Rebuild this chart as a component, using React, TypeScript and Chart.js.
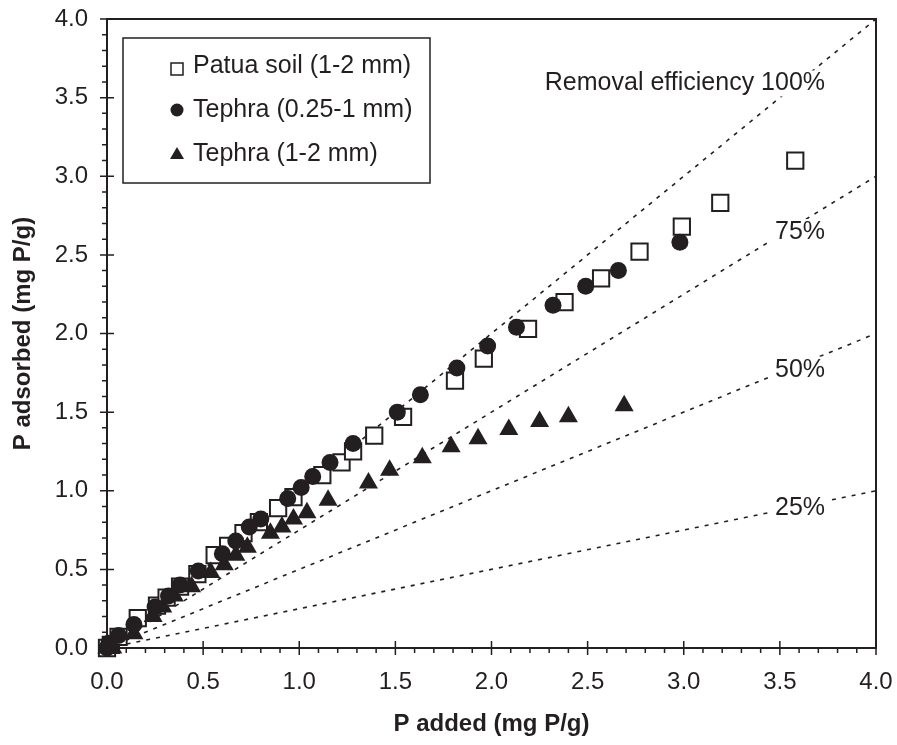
import React, { useEffect, useRef } from 'react';
import { Chart, registerables } from 'chart.js';

Chart.register(...registerables);

// ---- Data ----
const patuaX = [0, 0.02, 0.06, 0.16, 0.26, 0.31, 0.38, 0.47, 0.56, 0.63, 0.71, 0.79, 0.89, 0.97, 1.12, 1.22, 1.28, 1.39, 1.54, 1.81, 1.96, 2.19, 2.38, 2.57, 2.77, 2.99, 3.19, 3.58];
const patuaY = [0, 0.02, 0.07, 0.19, 0.27, 0.32, 0.39, 0.47, 0.59, 0.65, 0.73, 0.8, 0.89, 0.96, 1.1, 1.18, 1.25, 1.35, 1.47, 1.7, 1.84, 2.03, 2.2, 2.35, 2.52, 2.68, 2.83, 3.1];

const tephraFineX = [0, 0.01, 0.06, 0.14, 0.25, 0.32, 0.38, 0.475, 0.6, 0.67, 0.74, 0.8, 0.94, 1.01, 1.07, 1.16, 1.28, 1.51, 1.63, 1.82, 1.98, 2.13, 2.32, 2.49, 2.66, 2.98];
const tephraFineY = [0, 0.03, 0.08, 0.15, 0.26, 0.33, 0.4, 0.49, 0.6, 0.68, 0.77, 0.82, 0.95, 1.02, 1.09, 1.18, 1.3, 1.5, 1.61, 1.78, 1.92, 2.04, 2.18, 2.3, 2.4, 2.58];

const tephraCoarseX = [0, 0.03, 0.14, 0.24, 0.29, 0.35, 0.44, 0.54, 0.61, 0.67, 0.73, 0.85, 0.91, 0.97, 1.04, 1.15, 1.36, 1.47, 1.64, 1.79, 1.93, 2.09, 2.25, 2.4, 2.69];
const tephraCoarseY = [0, 0.0, 0.09, 0.2, 0.26, 0.33, 0.39, 0.48, 0.53, 0.59, 0.64, 0.73, 0.77, 0.82, 0.86, 0.94, 1.05, 1.13, 1.21, 1.28, 1.33, 1.39, 1.44, 1.47, 1.54];

const seriesLabels = ['Patua soil (1-2 mm)', 'Tephra (0.25-1 mm)', 'Tephra (1-2 mm)'];

// removal efficiency reference lines (endpoints)
const refX = [0, 4];
const ref100Y = [0, 4];
const ref75Y = [0, 3];
const ref50Y = [0, 2];
const ref25Y = [0, 1];
const refLabels = ['Removal efficiency 100%', '75%', '50%', '25%'];
const refLabelX = [3.735, 3.735, 3.735, 3.735];
const refLabelY = [3.59, 2.645, 1.77, 0.89];

const axisMin = 0;
const axisMax = 4;
const majorStep = 0.5;
const minorCount = 40; // minor ticks every 0.1

const xTitle = 'P added (mg P/g)';
const yTitle = 'P adsorbed (mg P/g)';

const INK = '#231f20';
const FONT = "'Liberation Sans', Arial, sans-serif";

const toPts = (xs: number[], ys: number[]) => xs.map((x, i) => ({ x, y: ys[i] }));

function drawMarker(ctx: CanvasRenderingContext2D, style: string, x: number, y: number, size: number) {
  ctx.save();
  ctx.beginPath();
  if (style === 'rect') {
    ctx.rect(x - size / 2, y - size / 2, size, size);
    ctx.fillStyle = '#fff';
    ctx.fill();
    ctx.lineWidth = 1.5;
    ctx.strokeStyle = INK;
    ctx.stroke();
  } else if (style === 'circle') {
    ctx.arc(x, y, size / 2, 0, Math.PI * 2);
    ctx.fillStyle = INK;
    ctx.fill();
  } else {
    const r = size / Math.sqrt(3);
    ctx.moveTo(x, y - r);
    ctx.lineTo(x + size / 2, y + r / 2);
    ctx.lineTo(x - size / 2, y + r / 2);
    ctx.closePath();
    ctx.fillStyle = INK;
    ctx.fill();
  }
  ctx.restore();
}

const decorPlugin = {
  id: 'decor',
  beforeDatasetsDraw(chart: any) {
    const { ctx, chartArea, scales } = chart;
    const xs = scales.x;
    const ys = scales.y;
    ctx.save();
    // top and right frame
    ctx.strokeStyle = INK;
    ctx.lineWidth = 2;
    ctx.beginPath();
    ctx.moveTo(chartArea.left, chartArea.top);
    ctx.lineTo(chartArea.right, chartArea.top);
    ctx.lineTo(chartArea.right, chartArea.bottom);
    ctx.stroke();
    // ticks
    ctx.lineWidth = 1.5;
    for (let i = 0; i <= minorCount; i++) {
      const v = axisMin + ((axisMax - axisMin) * i) / minorCount;
      const major = i % 5 === 0;
      const px = xs.getPixelForValue(v);
      const py = ys.getPixelForValue(v);
      ctx.beginPath();
      if (major) {
        ctx.moveTo(px, chartArea.bottom - 7);
        ctx.lineTo(px, chartArea.bottom + 7);
        ctx.moveTo(chartArea.left - 7, py);
        ctx.lineTo(chartArea.left + 7, py);
      } else {
        ctx.moveTo(px, chartArea.bottom);
        ctx.lineTo(px, chartArea.bottom + 5);
        ctx.moveTo(chartArea.left - 5, py);
        ctx.lineTo(chartArea.left, py);
      }
      ctx.stroke();
    }
    ctx.restore();
  },
  afterDatasetsDraw(chart: any) {
    const { ctx, scales } = chart;
    const xs = scales.x;
    const ys = scales.y;
    ctx.save();
    ctx.font = `25px ${FONT}`;
    ctx.textAlign = 'right';
    ctx.textBaseline = 'middle';
    refLabels.forEach((t, i) => {
      const px = xs.getPixelForValue(refLabelX[i]);
      const py = ys.getPixelForValue(refLabelY[i]);
      const w = ctx.measureText(t).width;
      ctx.fillStyle = '#fff';
      ctx.fillRect(px - w - 4, py - 13, w + 8, 26);
      ctx.fillStyle = INK;
      ctx.fillText(t, px, py);
    });
    ctx.restore();
  },
  afterDraw(chart: any) {
    const { ctx } = chart;
    ctx.save();
    // legend box
    const bx = 123, by = 38, bw = 307, bh = 145;
    ctx.fillStyle = '#fff';
    ctx.fillRect(bx, by, bw, bh);
    ctx.strokeStyle = INK;
    ctx.lineWidth = 1.5;
    ctx.strokeRect(bx, by, bw, bh);
    const styles = ['rect', 'circle', 'triangle'];
    const sizes = [12, 13, 14];
    const rowY = [66, 110, 154];
    const markY = [69, 110, 155];
    ctx.font = `25px ${FONT}`;
    ctx.textAlign = 'left';
    ctx.textBaseline = 'middle';
    seriesLabels.forEach((t, i) => {
      drawMarker(ctx, styles[i], 177, markY[i], sizes[i]);
      ctx.fillStyle = INK;
      ctx.fillText(t, 193, rowY[i]);
    });
    ctx.restore();
  },
};

export default function App() {
  const canvasRef = useRef<HTMLCanvasElement | null>(null);

  useEffect(() => {
    const canvas = canvasRef.current;
    if (!canvas) return;
    const refLine = (ys: number[]) => ({
      type: 'line' as const,
      data: toPts(refX, ys),
      showLine: true,
      borderColor: INK,
      borderWidth: 1.6,
      borderDash: [4, 6],
      pointRadius: 0,
      order: 10,
      fill: false,
    });
    const chart = new Chart(canvas, {
      type: 'scatter',
      data: {
        datasets: [
          refLine(ref100Y),
          refLine(ref75Y),
          refLine(ref50Y),
          refLine(ref25Y),
          {
            label: seriesLabels[0],
            data: toPts(patuaX, patuaY),
            pointStyle: 'rect',
            pointRadius: 11.5,
            pointBackgroundColor: '#ffffff',
            pointBorderColor: INK,
            pointBorderWidth: 2,
            order: 3,
            clip: false,
          },
          {
            label: seriesLabels[2],
            data: toPts(tephraCoarseX, tephraCoarseY),
            pointStyle: 'triangle',
            pointRadius: 11,
            pointBackgroundColor: INK,
            pointBorderColor: INK,
            pointBorderWidth: 0,
            order: 2,
            clip: false,
          },
          {
            label: seriesLabels[1],
            data: toPts(tephraFineX, tephraFineY),
            pointStyle: 'circle',
            pointRadius: 8.5,
            pointBackgroundColor: INK,
            pointBorderColor: INK,
            pointBorderWidth: 0,
            order: 1,
            clip: false,
          },
        ],
      },
      options: {
        responsive: false,
        animation: false,
        devicePixelRatio: 1,
        layout: { padding: { top: 19, right: 21, left: 0, bottom: 0 } },
        plugins: { legend: { display: false }, tooltip: { enabled: false } },
        scales: {
          x: {
            type: 'linear',
            min: axisMin,
            max: axisMax,
            afterFit: (s: any) => {
              s.height = 97;
              s.paddingLeft = 0;
              s.paddingRight = 0;
            },
            ticks: {
              stepSize: majorStep,
              padding: 20,
              color: INK,
              font: { family: FONT, size: 24 },
              callback: (v: any) => Number(v).toFixed(1),
            },
            grid: { display: false, drawTicks: false },
            border: { display: true, color: INK, width: 2 },
            title: {
              display: true,
              text: xTitle,
              color: INK,
              font: { family: FONT, size: 24, weight: 'bold' },
              padding: { top: 0, bottom: 6 },
            },
          },
          y: {
            type: 'linear',
            min: axisMin,
            max: axisMax,
            afterFit: (s: any) => {
              s.width = 107;
              s.paddingTop = 0;
              s.paddingBottom = 0;
            },
            ticks: {
              stepSize: majorStep,
              padding: 19,
              color: INK,
              font: { family: FONT, size: 24 },
              callback: (v: any) => Number(v).toFixed(1),
            },
            grid: { display: false, drawTicks: false },
            border: { display: true, color: INK, width: 2 },
            title: {
              display: true,
              text: yTitle,
              color: INK,
              font: { family: FONT, size: 24, weight: 'bold' },
              padding: { top: 9, bottom: 0 },
            },
          },
        },
      },
      plugins: [decorPlugin],
    } as any);
    return () => chart.destroy();
  }, []);

  return (
    <div style={{ position: 'absolute', left: 0, top: 0, width: 897, height: 745, background: '#fff' }}>
      <canvas ref={canvasRef} width={897} height={745} style={{ display: 'block' }} />
    </div>
  );
}
